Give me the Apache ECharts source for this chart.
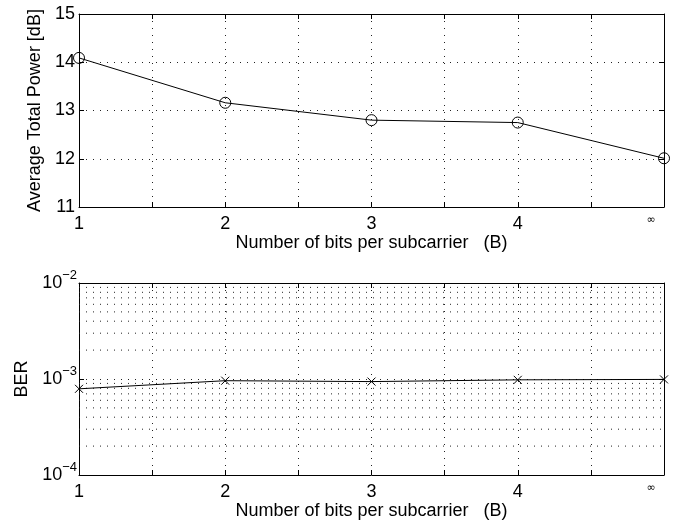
<!DOCTYPE html>
<html><head><meta charset="utf-8">
<script src="https://cdn.jsdelivr.net/npm/echarts@6/dist/echarts.min.js"></script>
<style>html,body{margin:0;padding:0;background:#fff}#c{width:675px;height:524px}</style>
</head><body><div id="c"></div>
<script>
const categories = [1, 2, 3, 4, 5];
const tickLabels = {1:'1', 2:'2', 3:'3', 4:'4', 5:'∞'};
const powerValues = [14.09, 13.16, 12.80, 12.75, 12.01];
const berValues = [7.9e-4, 9.6e-4, 9.4e-4, 9.8e-4, 9.9e-4];
const berMinor = [2e-4,3e-4,4e-4,5e-4,6e-4,7e-4,8e-4,9e-4,2e-3,3e-3,4e-3,5e-3,6e-3,7e-3,8e-3,9e-3];
const xTitle = 'Number of bits per subcarrier   (B)';

const FONT = 'Liberation Sans, Arial, Helvetica, sans-serif';
const dot = {color:'#222', width:1, type:[1,6]};
const lbl = {color:'#000', fontFamily:FONT, fontSize:18};

function xLabel(v){
  const t = tickLabels[v];
  if (!t) return '';
  return v === 5 ? '{i|' + t + '}' : '{n|' + t + '}';
}

function xAxes(gi){
  return [{
    type:'value', gridIndex:gi, min:1, max:5, interval:0.5,
    axisLine:{lineStyle:{color:'#000', width:1}},
    axisTick:{inside:true, length:5, lineStyle:{color:'#000'}},
    axisLabel:{margin:8, formatter:xLabel, verticalAlign:'top',
      rich:{n:{color:'#000', fontFamily:FONT, fontSize:18},
            i:{color:'#000', fontFamily:'DejaVu Sans', fontSize:11, padding:[0,26,8,0]}}},
    splitLine:{show:true, lineStyle:dot},
    name:xTitle, nameLocation:'middle', nameGap:26,
    nameTextStyle:{color:'#000', fontFamily:FONT, fontSize:18}
  },{
    type:'value', gridIndex:gi, min:1, max:5, interval:0.5, position:'top',
    axisLine:{lineStyle:{color:'#000', width:1}},
    axisTick:{inside:true, length:5, lineStyle:{color:'#000'}},
    axisLabel:{show:false}, splitLine:{show:false}
  }];
}

const minorSeries = berMinor.map(v => ({
  type:'line', xAxisIndex:2, yAxisIndex:2, silent:true, symbol:'none',
  data:[[categories[0], v], [categories[categories.length-1], v]],
  lineStyle:dot, z:1
}));

const option = {
  animation:false,
  backgroundColor:'#fff',
  grid:[
    {left:79, right:11, top:14, height:193},
    {left:79, right:11, top:283, height:192}
  ],
  xAxis:[...xAxes(0), ...xAxes(1)],
  yAxis:[
    {type:'value', gridIndex:0, min:11, max:15, interval:1,
     axisLine:{show:true, lineStyle:{color:'#000'}},
     axisTick:{show:true, inside:true, length:5, lineStyle:{color:'#000'}},
     axisLabel:Object.assign({margin:4}, lbl),
     splitLine:{show:true, lineStyle:dot},
     name:'Average Total Power [dB]', nameLocation:'middle', nameGap:35,
     nameTextStyle:{color:'#000', fontFamily:FONT, fontSize:18}},
    {type:'value', gridIndex:0, min:11, max:15, interval:1, position:'right',
     axisLine:{show:true, lineStyle:{color:'#000'}},
     axisTick:{show:true, inside:true, length:5, lineStyle:{color:'#000'}},
     axisLabel:{show:false}, splitLine:{show:false}},
    {type:'log', gridIndex:1, min:1e-4, max:1e-2, logBase:10,
     axisLine:{show:true, lineStyle:{color:'#000'}},
     axisTick:{show:true, inside:true, length:5, lineStyle:{color:'#000'}},
     axisLabel:{margin:2, formatter:v => '{b|10}{s|−' + Math.round(-Math.log10(v)) + '}',
       rich:{b:{color:'#000', fontFamily:FONT, fontSize:18},
             s:{color:'#000', fontFamily:FONT, fontSize:13, padding:[0,0,16,0]}}},
     splitLine:{show:true, lineStyle:dot},
     name:'BER', nameLocation:'middle', nameGap:48,
     nameTextStyle:{color:'#000', fontFamily:FONT, fontSize:18}},
    {type:'log', gridIndex:1, min:1e-4, max:1e-2, logBase:10, position:'right',
     axisLine:{show:true, lineStyle:{color:'#000'}},
     axisTick:{show:true, inside:true, length:5, lineStyle:{color:'#000'}},
     axisLabel:{show:false}, splitLine:{show:false}}
  ],
  series:[
    ...minorSeries,
    {type:'line', xAxisIndex:0, yAxisIndex:0,
     data:categories.map((c,i)=>[c, powerValues[i]]),
     symbol:'circle', symbolSize:11, showAllSymbol:true, z:5,
     lineStyle:{color:'#000', width:1},
     itemStyle:{color:'rgba(0,0,0,0)', borderColor:'#000', borderWidth:1}},
    {type:'line', xAxisIndex:2, yAxisIndex:2, z:5,
     data:categories.map((c,i)=>[c, berValues[i]]),
     symbol:'path://M0,0L10,10M10,0L0,10', symbolSize:8,
     lineStyle:{color:'#000', width:1},
     itemStyle:{color:'rgba(0,0,0,0)', borderColor:'#000', borderWidth:1}}
  ]
};
echarts.init(document.getElementById('c'), null, {renderer:'canvas'}).setOption(option);
</script></body></html>
